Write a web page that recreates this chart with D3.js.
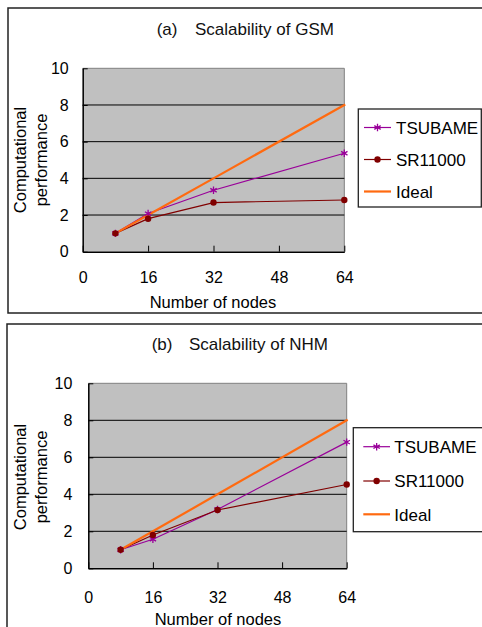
<!DOCTYPE html>
<html>
<head>
<meta charset="utf-8">
<script src="https://cdn.jsdelivr.net/npm/d3@7"></script>
<style>
  body { margin: 0; background: #fff; overflow: hidden; }
  svg { font-family: "Liberation Sans", Arial, sans-serif; }
</style>
</head>
<body>
<script>
// data
const nodes = [8, 16, 32, 64];
const gsmTsubame = [1, 2.08, 3.35, 5.37];
const gsmSr = [1, 1.8, 2.68, 2.82];
const nhmTsubame = [1, 1.57, 3.18, 6.82];
const nhmSr = [1, 1.8, 3.15, 4.53];
const ideal = [1, 2, 4, 8];
const xTicks = [0, 16, 32, 48, 64];
const yTicks = [0, 2, 4, 6, 8, 10];
const seriesNames = ['TSUBAME', 'SR11000', 'Ideal'];
const titleTags = ['(a)', '(b)'];
const titleTexts = ['Scalability of GSM', 'Scalability of NHM'];

const colors = ['#990099', '#800000', '#ff6a10'];

const svg = d3.select('body').append('svg')
  .attr('width', 482)
  .attr('height', 627);

// layout of each panel
const panels = [
  {
    box: [8, 8, 490, 305],
    plot: { l: 82.7, r: 344.3, t: 68.3, b: 251.7 },
    title: [156.7, 195, 35],
    xPad: 20, yPad: 14,
    xTitle: [213, 308], yTitleCy: 160,
    legend: { x: 358.3, y: 109, w: 123, h: 98, rows: [127.5, 159.5, 191.5], lx1: 364, lx2: 391, tx: 396 },
    series: [gsmTsubame, gsmSr, ideal]
  },
  {
    box: [7, 324, 490, 400],
    plot: { l: 88.3, r: 346.7, t: 383.3, b: 568.3 },
    title: [151.7, 189, 350],
    xPad: 23.5, yPad: 16,
    xTitle: [218, 625], yTitleCy: 477,
    legend: { x: 353.3, y: 427.7, w: 135, h: 104, rows: [446.7, 481, 514.3], lx1: 363.3, lx2: 390, tx: 394.3 },
    series: [nhmTsubame, nhmSr, ideal]
  }
];

function marker(g, i, x, y) {
  if (i === 0) {
    g.append('path')
      .attr('d', d3.symbol().type(d3.symbolAsterisk).size(38)())
      .attr('transform', `translate(${x},${y})`)
      .attr('fill', 'none')
      .attr('stroke', colors[0])
      .attr('stroke-width', 1.3);
  } else if (i === 1) {
    g.append('circle')
      .attr('cx', x).attr('cy', y).attr('r', 3.2)
      .attr('fill', colors[1]);
  }
}

panels.forEach((p, pi) => {
  const g = svg.append('g');

  g.append('rect')
    .attr('x', p.box[0]).attr('y', p.box[1])
    .attr('width', p.box[2]).attr('height', p.box[3])
    .attr('fill', 'none')
    .attr('stroke', '#222')
    .attr('stroke-width', 1.5);

  const x = d3.scaleLinear().domain([0, 64]).range([p.plot.l, p.plot.r]);
  const y = d3.scaleLinear().domain([0, 10]).range([p.plot.b, p.plot.t]);

  // plot area
  g.append('rect')
    .attr('x', x(0)).attr('y', y(10))
    .attr('width', x(64) - x(0)).attr('height', y(0) - y(10))
    .attr('fill', '#c0c0c0');
  g.append('path')
    .attr('d', `M${x(0)},${y(10)}H${x(64)}V${y(0)}`)
    .attr('fill', 'none')
    .attr('stroke', '#808080');

  // gridlines
  g.selectAll('.grid')
    .data(yTicks.filter(d => d > 0 && d < 10))
    .enter().append('line')
    .attr('x1', x(0)).attr('x2', x(64))
    .attr('y1', d => y(d)).attr('y2', d => y(d))
    .attr('stroke', '#000');

  const yAxis = g.append('g')
    .attr('transform', `translate(${x(0)},0)`)
    .call(d3.axisLeft(y).tickValues(yTicks).tickSize(-5).tickSizeOuter(0).tickPadding(p.yPad));
  yAxis.selectAll('text').attr('font-size', 16).attr('fill', '#000').attr('font-family', null);

  const xAxis = g.append('g')
    .attr('transform', `translate(0,${y(0)})`)
    .call(d3.axisBottom(x).tickValues(xTicks).tickSize(-6).tickSizeOuter(0).tickPadding(p.xPad));
  xAxis.selectAll('text').attr('font-size', 16).attr('fill', '#000').attr('font-family', null);
  [yAxis, xAxis].forEach(a => {
    a.select('.domain').attr('stroke', '#000').attr('stroke-width', 1.5);
    a.selectAll('line').attr('stroke', '#000');
  });

  // series
  const line = d3.line().x((d, i) => x(nodes[i])).y(d => y(d));
  [0, 1, 2].forEach(si => {
    g.append('path')
      .datum(p.series[si])
      .attr('d', line)
      .attr('fill', 'none')
      .attr('stroke', colors[si])
      .attr('stroke-width', si === 2 ? 2.2 : 1.2)
      .attr('stroke-linecap', si === 2 ? 'square' : 'butt');
  });
  [0, 1].forEach(si => {
    p.series[si].forEach((d, i) => marker(g, si, x(nodes[i]), y(d)));
  });

  // titles
  const t = g.append('text')
    .attr('y', p.title[2])
    .attr('font-size', 17)
    .attr('fill', '#111');
  t.append('tspan').attr('x', p.title[0]).text(titleTags[pi]);
  t.append('tspan').attr('x', p.title[1]).text(titleTexts[pi]);

  g.append('text')
    .attr('x', p.xTitle[0]).attr('y', p.xTitle[1])
    .attr('text-anchor', 'middle')
    .attr('font-size', 16.5)
    .text('Number of nodes');

  const yt = g.append('text')
    .attr('transform', `translate(0,${p.yTitleCy}) rotate(-90)`)
    .attr('text-anchor', 'middle')
    .attr('font-size', 16.5);
  yt.append('tspan').attr('x', 0).attr('y', 26).text('Computational');
  yt.append('tspan').attr('x', 0).attr('y', 47).text('performance');

  // legend
  const L = p.legend;
  g.append('rect')
    .attr('x', L.x).attr('y', L.y)
    .attr('width', L.w).attr('height', L.h)
    .attr('fill', '#fff')
    .attr('stroke', '#222')
    .attr('stroke-width', 1.3);
  seriesNames.forEach((name, si) => {
    const ry = L.rows[si];
    g.append('line')
      .attr('x1', L.lx1).attr('x2', L.lx2)
      .attr('y1', ry).attr('y2', ry)
      .attr('stroke', colors[si])
      .attr('stroke-width', si === 2 ? 2.2 : 1.2);
    marker(g, si, (L.lx1 + L.lx2) / 2, ry);
    g.append('text')
      .attr('x', L.tx).attr('y', ry + 6.3)
      .attr('font-size', 17)
      .text(name);
  });
});
</script>
</body>
</html>
